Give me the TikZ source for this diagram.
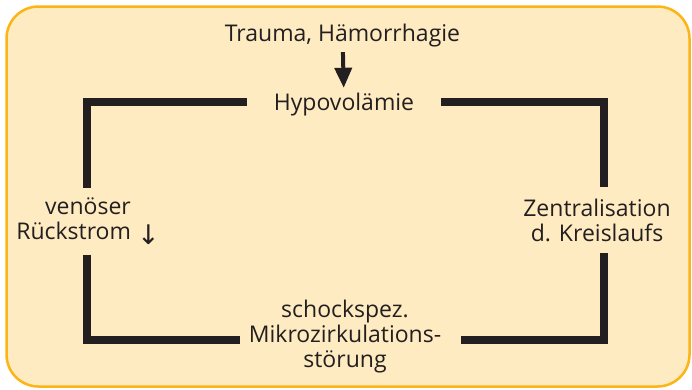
\documentclass[tikz,border=0pt]{standalone}
\usepackage{fontspec}
\setmainfont{Open Sans}
\newfontfamily\arrowfont{DejaVu Sans}
\usetikzlibrary{arrows.meta}
\definecolor{bgfill}{RGB}{254,235,193}
\definecolor{bgline}{RGB}{252,180,22}
\definecolor{ink}{RGB}{35,31,32}
\begin{document}
\begin{tikzpicture}[x=1pt,y=-1pt,
  lbl/.style={font=\fontsize{23}{25}\selectfont, text=ink, inner sep=0pt, align=center},
  bar/.style={draw=ink, line width=8pt, line join=miter},
  cause/.style={draw=ink, line width=4pt, -{Triangle[width=17pt,length=20pt]}}]
\useasboundingbox (0,0) rectangle (692,389);
\fill[bgfill, draw=bgline, line width=2.5pt, rounded corners=32pt] (6.5,6.5) rectangle (689.5,386.5);

\node[lbl, anchor=base, text height=17pt, text depth=0pt] (trauma) at (342.5,41) {Trauma, Hämorrhagie};
\node[lbl, anchor=base, text height=17pt, text depth=0pt, inner xsep=27pt] (hypo) at (344,110) {Hypovolämie};
\node[lbl, minimum height=66pt] (ven) at (88,221.5) {venöser\\Rückstrom {\arrowfont\fontsize{27}{25}\selectfont\raisebox{-5pt}{↓}}};
\node[lbl, minimum height=66pt] (zen) at (597,220) {Zentralisation\\d. Kreislaufs};
\node[lbl, inner xsep=0pt] (mikro) at (345,337) {schockspez.\\Mikrozirkulations-\\störung};

\draw[cause, shorten <=11pt, shorten >=5pt] (trauma) -- (hypo);
\draw[bar] (hypo.west) -| ([xshift=-1pt]ven.north);
\draw[bar] (hypo.east) -| ([xshift=7pt]zen.north);
\draw[bar] ([xshift=-1pt]ven.south) |- ([xshift=-9pt,yshift=-2.5pt]mikro.west);
\draw[bar] ([xshift=7pt]zen.south) |- ([xshift=20pt,yshift=-2.5pt]mikro.east);
\end{tikzpicture}
\end{document}
